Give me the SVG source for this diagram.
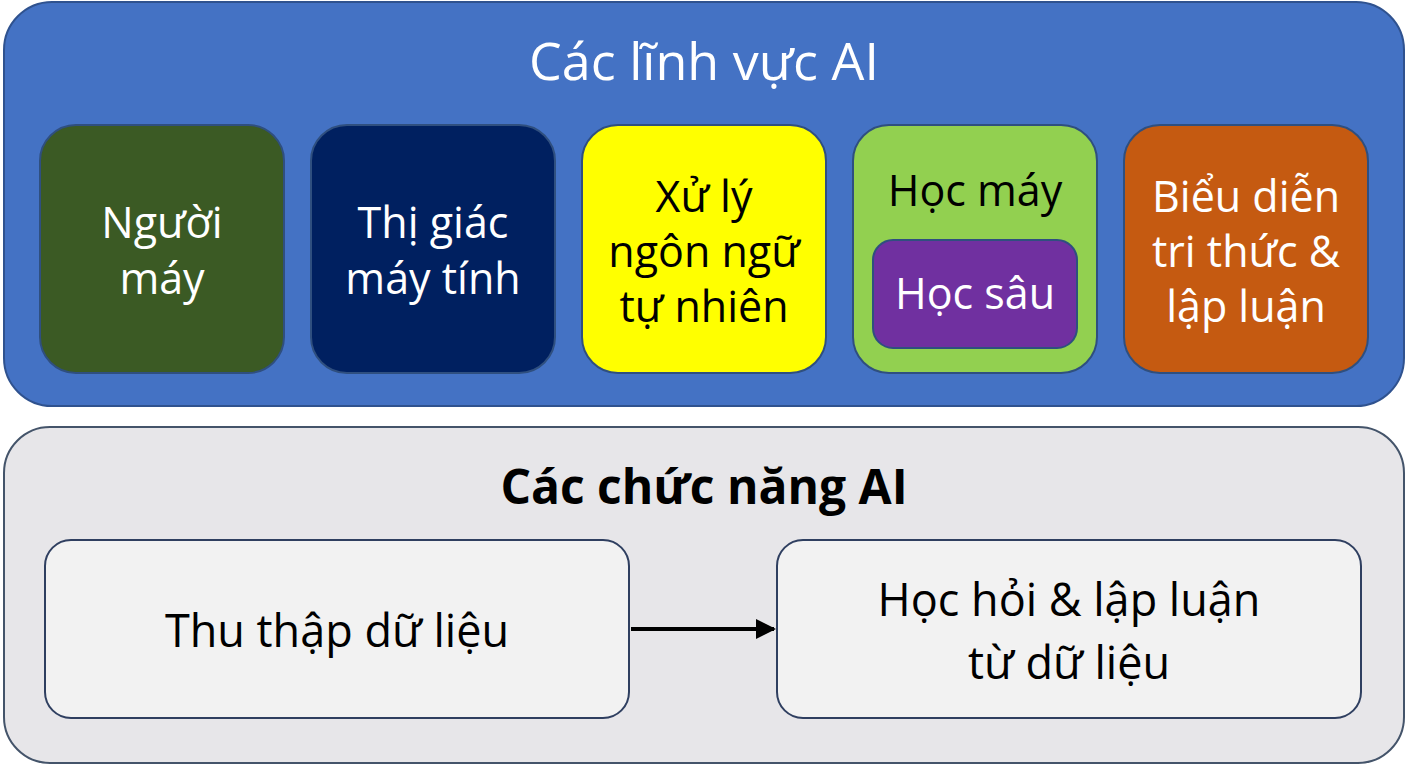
<svg xmlns="http://www.w3.org/2000/svg" width="1408" height="768" viewBox="0 0 1408 768">
<defs>
<style>
text{font-family:"Open Sans","Noto Sans","DejaVu Sans",sans-serif;text-anchor:middle}
.w{fill:#ffffff}
.b{fill:#000000}
.f{font-size:43px}
.g{font-size:45px}
.card{stroke:#2F4F7F;stroke-width:2}
.fbox{fill:#F2F2F2;stroke:#2F3F60;stroke-width:2}
</style>
<marker id="ah" markerWidth="5" markerHeight="5" refX="4.5" refY="2.5" orient="auto" markerUnits="strokeWidth">
<path d="M0,0 L5,2.5 L0,5 Z" fill="#000"/>
</marker>
</defs>
<rect width="1408" height="768" fill="#ffffff"/>
<g id="fields">
<rect x="4" y="2" width="1400" height="404" rx="48" fill="#4472C4" stroke="#2F528F" stroke-width="2"/>
<text x="704" y="80" class="w" font-size="52">Các lĩnh vực AI</text>
</g>
<g id="robot">
<rect x="40" y="125" width="244" height="248" rx="36" fill="#3B5A24" class="card"/>
<text class="w f" x="162" y="238">Người</text>
<text class="w f" x="162" y="294">máy</text>
</g>
<g id="vision">
<rect x="311" y="125" width="244" height="248" rx="36" fill="#002060" class="card"/>
<text class="w f" x="433" y="238">Thị giác</text>
<text class="w f" x="433" y="294">máy tính</text>
</g>
<g id="nlp">
<rect x="582" y="125" width="244" height="248" rx="36" fill="#FFFF00" class="card"/>
<text class="b f" x="704" y="212">Xử lý</text>
<text class="b f" x="704" y="267">ngôn ngữ</text>
<text class="b f" x="704" y="322">tự nhiên</text>
</g>
<g id="ml">
<rect x="853" y="125" width="244" height="248" rx="36" fill="#92D050" class="card"/>
<text class="b f" x="975" y="206">Học máy</text>
</g>
<g id="dl">
<rect x="873" y="240" width="204" height="108" rx="20" fill="#7030A0" class="card"/>
<text class="w f" x="975" y="309">Học sâu</text>
</g>
<g id="kr">
<rect x="1124" y="125" width="244" height="248" rx="36" fill="#C55A11" class="card"/>
<text class="w f" x="1246" y="212">Biểu diễn</text>
<text class="w f" x="1246" y="267">tri thức &amp;</text>
<text class="w f" x="1246" y="322">lập luận</text>
</g>
<g id="functions">
<rect x="4" y="427" width="1400" height="336" rx="46" fill="#E7E6E9" stroke="#44546A" stroke-width="2"/>
<text x="704" y="504" class="b" font-size="48" font-weight="bold">Các chức năng AI</text>
</g>
<g id="collect">
<rect x="45" y="540" width="584" height="178" rx="26" class="fbox"/>
<text class="b g" x="337" y="647">Thu thập dữ liệu</text>
</g>
<g id="learn">
<rect x="777" y="540" width="584" height="178" rx="26" class="fbox"/>
<text class="b g" x="1069" y="616">Học hỏi &amp; lập luận</text>
<text class="b g" x="1069" y="679">từ dữ liệu</text>
</g>
<g id="connectors">
<line x1="631" y1="629" x2="774" y2="629" stroke="#000" stroke-width="4" marker-end="url(#ah)"/>
</g>
</svg>
